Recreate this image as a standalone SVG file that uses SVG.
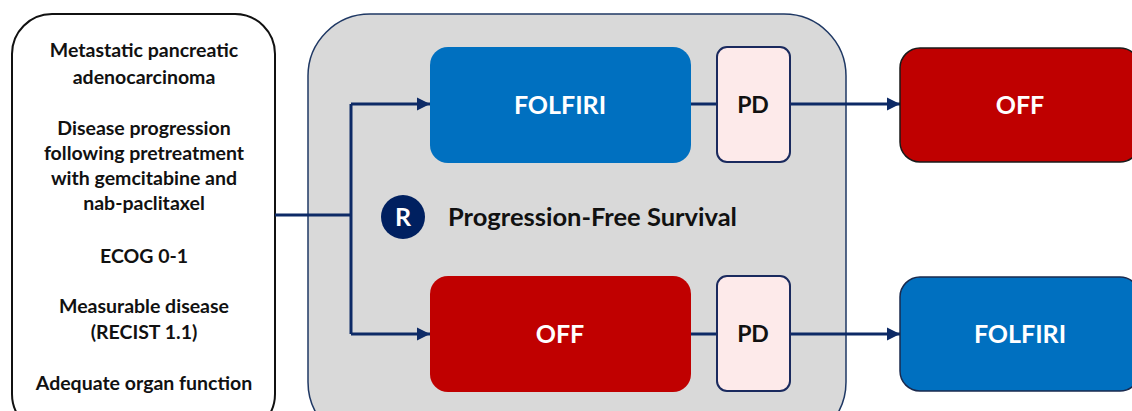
<svg xmlns="http://www.w3.org/2000/svg" width="1132" height="411" viewBox="0 0 1132 411">
<defs>
<marker id="arr" viewBox="0 0 10 10" refX="10" refY="5" markerWidth="4.5" markerHeight="4.5" markerUnits="strokeWidth" orient="auto">
<path d="M0,0 L10,5 L0,10 z" fill="#0d2a66"/>
</marker>
</defs>
<style>
text{font-family:Lato,"Open Sans","Liberation Sans",sans-serif;font-weight:bold;text-anchor:middle}
.crit{font-size:19.5px;fill:#111}
.arm{font-size:25px;fill:#fff}
.pd{font-size:23px;fill:#111}
.conn{stroke:#0d2a66;stroke-width:3;fill:none}
.blue{fill:#0070c0}
.red{fill:#c00000}
.pdbox{fill:#fdeaea;stroke:#1a2a5e;stroke-width:2}
</style>
<rect width="1132" height="411" fill="#fff"/>
<g id="criteria">
<rect x="12" y="14" width="263" height="420" rx="40" fill="#fff" stroke="#111" stroke-width="2"/>
<text class="crit" x="144" y="57">Metastatic pancreatic</text>
<text class="crit" x="144" y="84">adenocarcinoma</text>
<text class="crit" x="144" y="135">Disease progression</text>
<text class="crit" x="144" y="160">following pretreatment</text>
<text class="crit" x="144" y="185">with gemcitabine and</text>
<text class="crit" x="144" y="210">nab-paclitaxel</text>
<text class="crit" x="144" y="263">ECOG 0-1</text>
<text class="crit" x="144" y="313">Measurable disease</text>
<text class="crit" x="144" y="339">(RECIST 1.1)</text>
<text class="crit" x="144" y="390">Adequate organ function</text>
</g>
<g id="study">
<rect x="308" y="14" width="538" height="430" rx="62" fill="#d9d9d9" stroke="#1f3864" stroke-width="1.5"/>
</g>
<g id="connectors">
<path class="conn" d="M275,215 H351"/>
<path class="conn" d="M351,104 V334"/>
<path class="conn" d="M351,104 H430" marker-end="url(#arr)"/>
<path class="conn" d="M351,334 H430" marker-end="url(#arr)"/>
<path class="conn" d="M691,104 H717"/>
<path class="conn" d="M691,334 H717"/>
<path class="conn" d="M790,104 H900" marker-end="url(#arr)"/>
<path class="conn" d="M790,334 H900" marker-end="url(#arr)"/>
</g>
<g id="arm1">
<rect class="blue" x="430" y="47" width="261" height="116" rx="18"/>
<text class="arm" x="560" y="114">FOLFIRI</text>
</g>
<g id="arm2">
<rect class="red" x="430" y="276" width="261" height="116" rx="18"/>
<text class="arm" x="560" y="343">OFF</text>
</g>
<g id="pd1">
<rect class="pdbox" x="717" y="47" width="73" height="115" rx="10"/>
<text class="pd" x="753" y="113">PD</text>
</g>
<g id="pd2">
<rect class="pdbox" x="717" y="276" width="73" height="115" rx="10"/>
<text class="pd" x="753" y="342">PD</text>
</g>
<g id="randomization">
<circle cx="403" cy="217" r="22" fill="#002060"/>
<text x="403" y="226" style="font-size:25px;fill:#fff">R</text>
<text x="448" y="226" style="font-size:25.5px;fill:#111;text-anchor:start">Progression-Free Survival</text>
</g>
<g id="cross1">
<rect x="900" y="48" width="240" height="114" rx="20" fill="#bf0000" stroke="#1a1a1a" stroke-width="1.5"/>
<text class="arm" x="1020" y="114">OFF</text>
</g>
<g id="cross2">
<rect x="900" y="277" width="240" height="114" rx="20" fill="#0070c0" stroke="#1a2a4e" stroke-width="1.5"/>
<text class="arm" x="1020" y="343">FOLFIRI</text>
</g>
</svg>
